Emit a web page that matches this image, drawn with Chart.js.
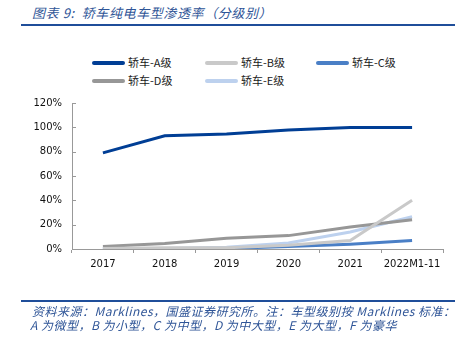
<!DOCTYPE html>
<html>
<head>
<meta charset="utf-8">
<script src="https://cdn.jsdelivr.net/npm/chart.js@4"></script>
<style>
  body { margin: 0; background: #fff; }
  #wrap { position: relative; width: 465px; height: 338px; overflow: hidden; font-family: "Noto Sans CJK SC", "DejaVu Sans", sans-serif; }
  #chart { position: absolute; left: 0; top: 0; }
  .title { position: absolute; left: 32px; top: 3px; font-size: 13px; font-style: italic; color: #2F5597; white-space: nowrap; letter-spacing: 0.6px; }
  .rule { position: absolute; left: 21px; width: 434px; height: 2px; background: #1F4E9A; }
  .note { position: absolute; left: 30px; font-size: 12px; font-style: italic; color: #2F5597; white-space: nowrap; line-height: 14px; letter-spacing: 0.5px; }
  .lg { position: absolute; font-size: 11px; color: #222; white-space: nowrap; line-height: 14px; }
  .lg span { display: inline-block; width: 33px; height: 4px; border-radius: 2px; vertical-align: middle; margin-right: 3px; position: relative; top: -1px; }
</style>
</head>
<body>
<div id="wrap">
  <div class="title">图表 9:&nbsp; 轿车纯电车型渗透率（分级别）</div>
  <div class="rule" style="top:24px"></div>
  <div id="legend"></div>
  <canvas id="chart" width="465" height="338"></canvas>
  <div class="rule" style="top:300px"></div>
  <div class="note" style="top:304px; left:32px">资料来源：Marklines，国盛证券研究所。注：车型级别按 Marklines 标准：</div>
  <div class="note" style="top:318px">A 为微型，B 为小型，C 为中型，D 为中大型，E 为大型，F 为豪华</div>
</div>
<script>
// categories and series (share, %)
var years = ["2017", "2018", "2019", "2020", "2021", "2022M1-11"];
var sedanA = [79, 93, 94.5, 97.8, 99.8, 99.9];
var sedanB = [0.5, 1, 1, 3, 7, 40];
var sedanC = [0, 0, 0.5, 2, 4, 7];
var sedanD = [2, 4.5, 8.8, 11, 18, 24];
var sedanE = [0, 0.5, 1.5, 5, 14, 26.5];
var seriesNames = ["轿车-A级", "轿车-B级", "轿车-C级", "轿车-D级", "轿车-E级"];
var seriesColors = ["#003E95", "#C9C9C9", "#4A7FC6", "#979797", "#BDD1EE"];
var yTicks = [0, 20, 40, 60, 80, 100, 120];

var seriesData = [sedanA, sedanB, sedanC, sedanD, sedanE];

// html legend, 3 columns
var legendPos = [[92, 55], [205, 55], [316, 55], [92, 73], [205, 73]];
var legendHtml = "";
for (var i = 0; i < seriesNames.length; i++) {
  legendHtml += '<div class="lg" style="left:' + legendPos[i][0] + 'px;top:' + legendPos[i][1] + 'px">' +
    '<span style="background:' + seriesColors[i] + '"></span>' + seriesNames[i] + '</div>';
}
document.getElementById("legend").innerHTML = legendHtml;

// small inward tick marks on the y axis
var yTickMarks = {
  id: "yTickMarks",
  afterDraw: function(chart) {
    var ctx = chart.ctx, y = chart.scales.y;
    ctx.save();
    ctx.strokeStyle = "#999";
    ctx.lineWidth = 1;
    yTicks.forEach(function(v) {
      var py = Math.round(y.getPixelForValue(v)) + 0.5;
      ctx.beginPath();
      ctx.moveTo(y.right, py);
      ctx.lineTo(y.right + 4, py);
      ctx.stroke();
    });
    ctx.restore();
  }
};

var datasets = seriesNames.map(function(name, i) {
  return {
    label: name,
    data: seriesData[i],
    borderColor: seriesColors[i],
    backgroundColor: seriesColors[i],
    borderWidth: 3,
    pointRadius: 0,
    tension: 0,
    fill: false
  };
});

new Chart(document.getElementById("chart"), {
  type: "line",
  data: { labels: years, datasets: datasets },
  options: {
    responsive: false,
    animation: false,
    layout: { padding: { top: 103, right: 22, bottom: 59, left: 0 } },
    plugins: { legend: { display: false }, tooltip: { enabled: false } },
    scales: {
      x: {
        offset: true,
        afterFit: function(s) { s.height = 30; },
        grid: { offset: true, drawOnChartArea: false, tickLength: 4, color: "#999" },
        border: { color: "#999" },
        ticks: { color: "#111", font: { family: "DejaVu Sans", size: 10 }, padding: 5, maxRotation: 0 }
      },
      y: {
        min: 0,
        max: 120,
        afterFit: function(s) { s.width = 72; },
        afterBuildTicks: function(s) { s.ticks = yTicks.map(function(v) { return { value: v }; }); },
        grid: { drawOnChartArea: false, drawTicks: false },
        border: { color: "#999" },
        ticks: {
          color: "#111",
          font: { family: "DejaVu Sans", size: 10 },
          padding: 10,
          callback: function(v) { return v + "%"; }
        }
      }
    }
  },
  plugins: [yTickMarks]
});
</script>
</body>
</html>
